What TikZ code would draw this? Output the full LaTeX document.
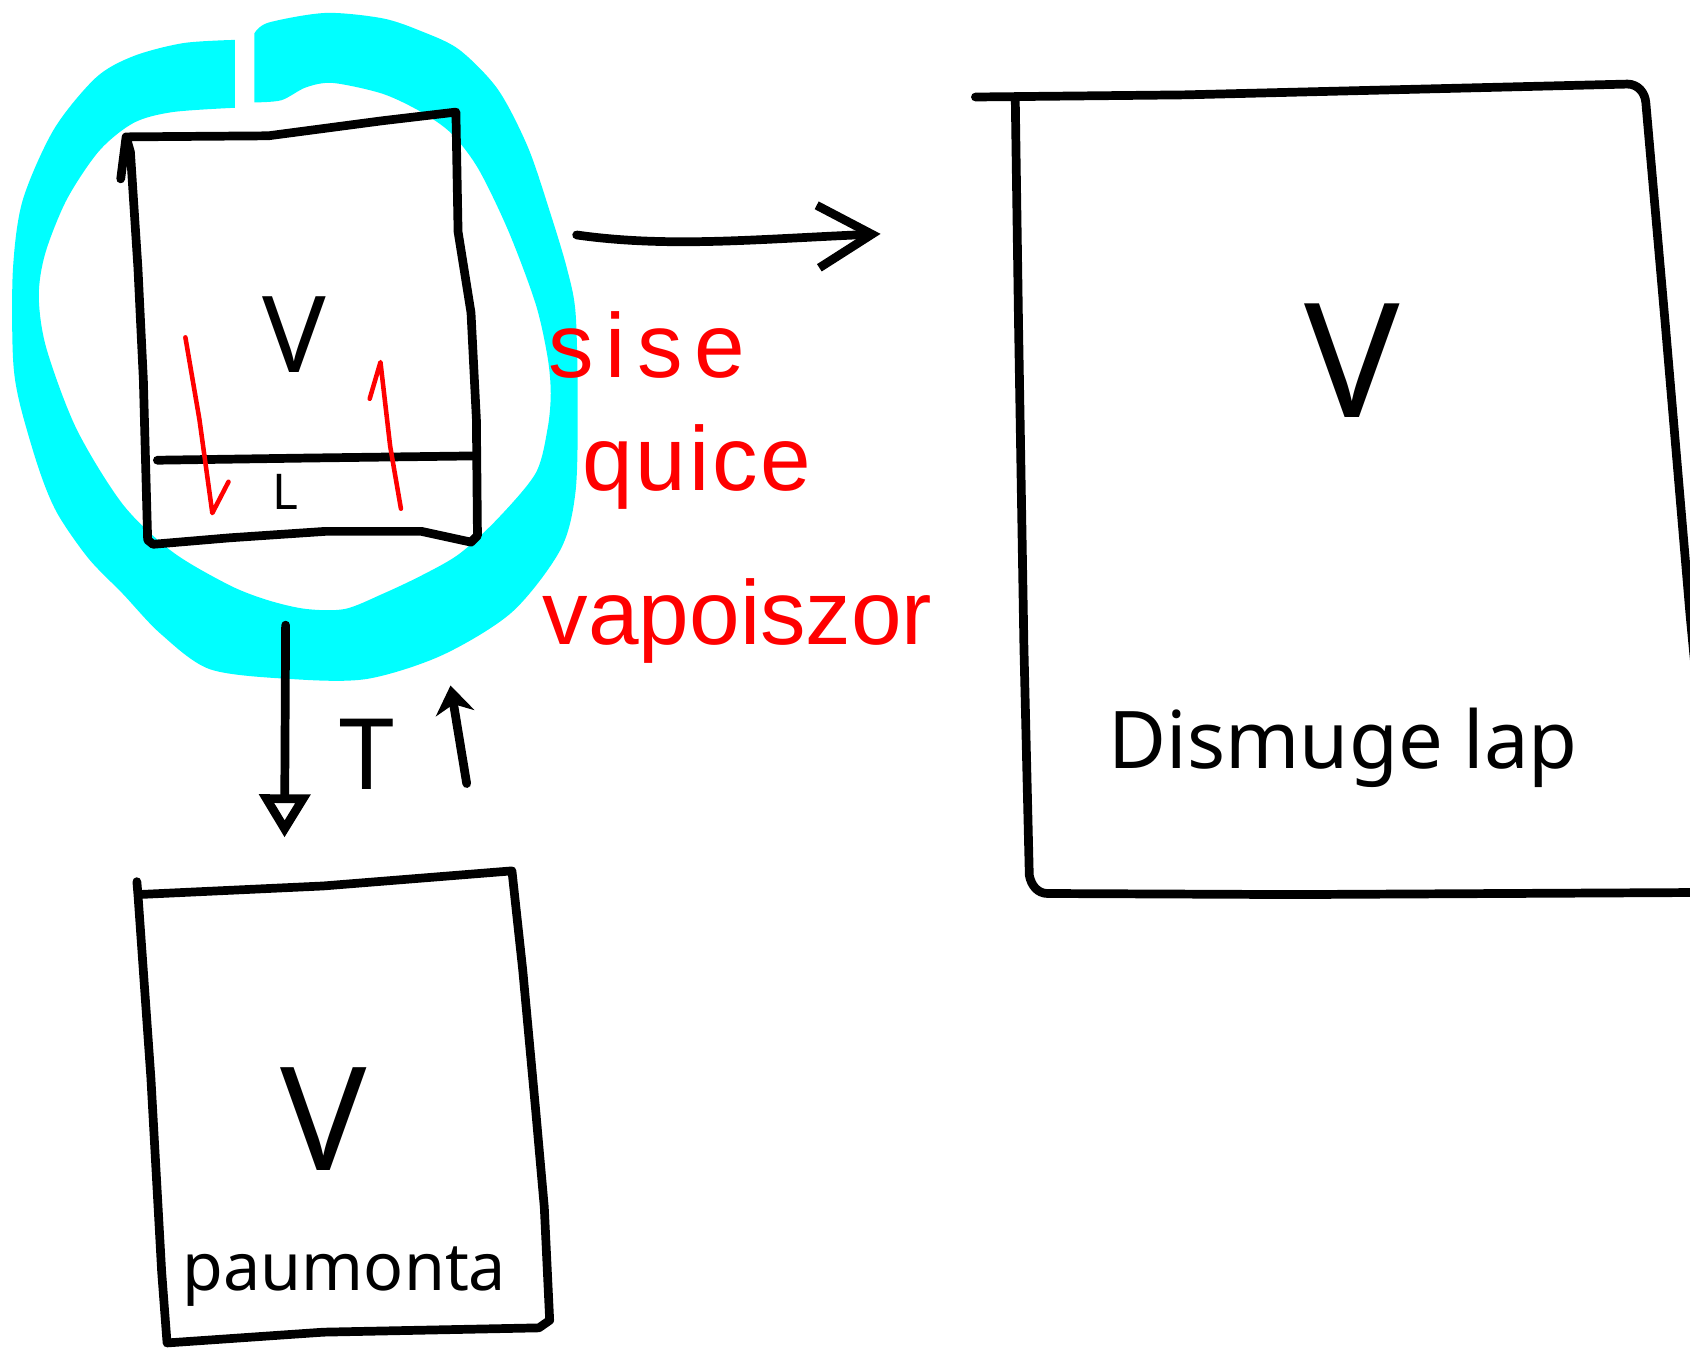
\documentclass[tikz,border=0pt]{standalone}
\usepackage{fontspec}
\setmainfont{Noto Sans}
\newfontfamily\notefont{Liberation Sans}
\usetikzlibrary{arrows.meta}
\definecolor{marker}{RGB}{0,255,255}
\definecolor{ink}{RGB}{255,0,0}

\begin{document}
\begin{tikzpicture}[x=0.01cm, y=-0.01cm,
    pen/.style={line width=2.3pt, line join=round, line cap=round},
    redpen/.style={ink, line width=1.2pt, line join=round, line cap=round},
    lbl/.style={inner sep=0pt, font=\fontsize{#1}{#1}\selectfont},
    note/.style={ink, inner sep=0pt, anchor=base west, font=\notefont\fontsize{24}{24}\selectfont},
]

\clip (0,0) rectangle (1568,1251);

% Highlighter ring round the little box (open at the top)
\fill[marker] plot[smooth, tension=0.5] coordinates {
    (236,31) (249,21) (302,12) (355,17) (391,29) (426,46) (462,83) (490,137)
    (511,199) (526,249) (534,290) (536,373) (534,456) (520,510) (475,568)
    (410,608) (340,630) (270,630) (195,621) (149,588) (114,551) (82,518)
    (53,476) (36,435) (18,373) (12,331) (12,250) (21,186) (50,120) (89,72)
    (124,52) (170,40) (218,37)}
  -- plot[smooth, tension=0.5] coordinates {
    (218,100) (160,104) (124,114) (92,140) (62,185) (42,235) (36,275) (43,323)
    (71,398) (114,468) (160,512) (213,543) (249,557) (284,565) (320,565)
    (355,551) (391,534) (426,514) (462,481) (497,439) (508,398) (511,365)
    (508,331) (497,282) (472,215) (444,157) (419,124) (391,104) (355,87)
    (309,77) (284,81) (261,93) (236,95)}
  -- cycle;

% Little box with its bottom strip
\draw[pen] (112,166) -- (117,127) -- (249,126) -- (355,112) -- (423,104)
    -- (425,215) -- (437,290) -- (442,389) -- (443,497) -- (437,503)
    -- (391,493) -- (302,493) -- (213,499) -- (142,505) -- (137,501)
    -- (133,352) -- (128,249) -- (121,141) -- (117,127);
\draw[pen] (146,427) -- (284,425) -- (440,423);
\node[lbl=28] (vsmall) at (273,310) {V};
\node[lbl=13] (lstrip) at (265,456) {L};

% Flow marks inside the little box
\draw[redpen] (172,313) -- (185,389) -- (197,476) -- (212,447);
\draw[redpen] (372,472) -- (362,414) -- (353,336) -- (343,370);

% Notes beside the ring
\node[note] (sise) at (508,350) {\addfontfeature{LetterSpace=13}sise};
\node[note] (quice) at (540,455) {\addfontfeature{LetterSpace=3}quice};
\node[note] (vapo) at (503,598) {vapoiszor};

% Big box on the right
\draw[pen] (905,90) -- (1100,88) -- (1510,78) to[out=0, in=95] (1527,95)
    -- (1545,300) -- (1568,570) -- (1590,800) -- (1590,828)
    -- (1200,830) -- (972,829) to[out=180, in=-80] (955,812)
    -- (950,600) -- (945,300) -- (942,93);
\node[lbl=42] (vbig) at (1255,335) {V};
\node[lbl=21, anchor=base west] (dismuge) at (1028,713) {Dismuge lap};

% Box underneath
\draw[pen] (127,818) -- (128,830) -- (300,822) -- (475,808)
    -- (485,900) -- (497,1030) -- (505,1120) -- (510,1225) -- (500,1232)
    -- (300,1236) -- (155,1246) -- (150,1180) -- (140,1000) -- (128,830);
\node[lbl=38] (vlow) at (300,1038) {V};
\node[lbl=17.5, anchor=base west] (paumonta) at (169,1197) {paumonta};

% Arrows between the boxes
\coordinate (outA) at (535,218);
\coordinate (outB) at (817,217);
\draw[pen, -{Straight Barb[length=5mm, width=5.8mm]}]
    (outA) .. controls (620,230) and (700,222) .. (outB);

\coordinate (downA) at (265,580);
\coordinate (downB) at (264,777);
\draw[pen, -{Triangle[open, length=4mm, width=4.6mm]}] (downA) -- (downB);

\coordinate (upA) at (433,727);
\coordinate (upB) at (418,636);
\draw[pen, -{Stealth[length=2.6mm, width=3.6mm]}] (upA) -- (upB);

\node[lbl=26] (tlabel) at (340,700) {T};

\end{tikzpicture}
\end{document}
